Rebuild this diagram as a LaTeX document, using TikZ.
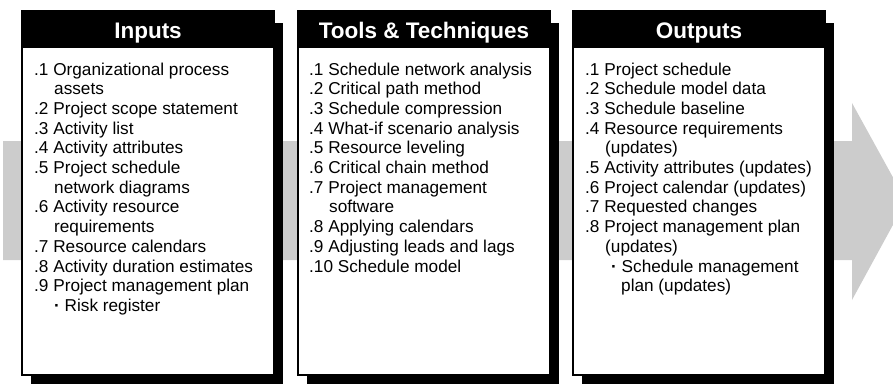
\documentclass[tikz,border=0pt]{standalone}
\usepackage{fontspec}
\setmainfont{Liberation Sans}
\definecolor{arrowgray}{HTML}{CCCCCC}
\newcommand{\bdot}{{\bfseries ·}}
\tikzset{
  item/.style={anchor=base west, inner sep=0pt, font=\fontsize{17.2}{19.7}\selectfont},
  titletext/.style={anchor=base, inner sep=0pt, text=white, font=\bfseries\fontsize{22.5}{24}\selectfont},
  shadowfill/.style={fill=black},
  panel/.style={draw=black, line width=2pt, fill=white},
  band/.style={fill=black},
  bigarrow/.style={fill=arrowgray},
}
\begin{document}
\begin{tikzpicture}[x=1pt,y=-1pt]
\useasboundingbox (0,0) rectangle (893,384);
% big gray arrow
\path[bigarrow] (3,141) -- (852,141) -- (852,103) -- (906,201) -- (852,300) -- (852,260) -- (3,260) -- cycle;
% panels
\foreach \l in {21,297,572}{
  \path[shadowfill] (\l+10,23) rectangle (\l+262,384);
  \path[panel] (\l+1,11) rectangle (\l+253,375);
  \path[band] (\l,10) rectangle (\l+254,48);
}
\node[titletext] (t1) at (148,38) {Inputs};
\node[titletext] (t2) at (424,38) {Tools \& Techniques};
\node[titletext] (t3) at (699,38) {Outputs};
% Inputs
\node[item] (a1) at (34,75) {.1 Organizational process};
\node[item] (a1b) at (54,94.7) {assets};
\node[item] (a2) at (34,114.4) {.2 Project scope statement};
\node[item] (a3) at (34,134.1) {.3 Activity list};
\node[item] (a4) at (34,153.8) {.4 Activity attributes};
\node[item] (a5) at (34,173.5) {.5 Project schedule};
\node[item] (a5b) at (54,193.2) {network diagrams};
\node[item] (a6) at (34,212.9) {.6 Activity resource};
\node[item] (a6b) at (54,232.6) {requirements};
\node[item] (a7) at (34,252.3) {.7 Resource calendars};
\node[item] (a8) at (34,272) {.8 Activity duration estimates};
\node[item] (a9) at (34,291.7) {.9 Project management plan};
\node[item] (a9b) at (54,311.4) {\bdot{} Risk register};
% Tools & Techniques
\node[item] (b1) at (309,75) {.1 Schedule network analysis};
\node[item] (b2) at (309,94.7) {.2 Critical path method};
\node[item] (b3) at (309,114.4) {.3 Schedule compression};
\node[item] (b4) at (309,134.1) {.4 What-if scenario analysis};
\node[item] (b5) at (309,153.8) {.5 Resource leveling};
\node[item] (b6) at (309,173.5) {.6 Critical chain method};
\node[item] (b7) at (309,193.2) {.7 Project management};
\node[item] (b7b) at (329,212.9) {software};
\node[item] (b8) at (309,232.6) {.8 Applying calendars};
\node[item] (b9) at (309,252.3) {.9 Adjusting leads and lags};
\node[item] (b10) at (309,272) {.10 Schedule model};
% Outputs
\node[item] (c1) at (585,75) {.1 Project schedule};
\node[item] (c2) at (585,94.7) {.2 Schedule model data};
\node[item] (c3) at (585,114.4) {.3 Schedule baseline};
\node[item] (c4) at (585,134.1) {.4 Resource requirements};
\node[item] (c4b) at (605,153.8) {(updates)};
\node[item] (c5) at (585,173.5) {.5 Activity attributes (updates)};
\node[item] (c6) at (585,193.2) {.6 Project calendar (updates)};
\node[item] (c7) at (585,212.9) {.7 Requested changes};
\node[item] (c8) at (585,232.6) {.8 Project management plan};
\node[item] (c8b) at (605,252.3) {(updates)};
\node[item] (c8c) at (611,272) {\bdot{} Schedule management};
\node[item] (c8d) at (621,291.7) {plan (updates)};
\end{tikzpicture}
\end{document}
